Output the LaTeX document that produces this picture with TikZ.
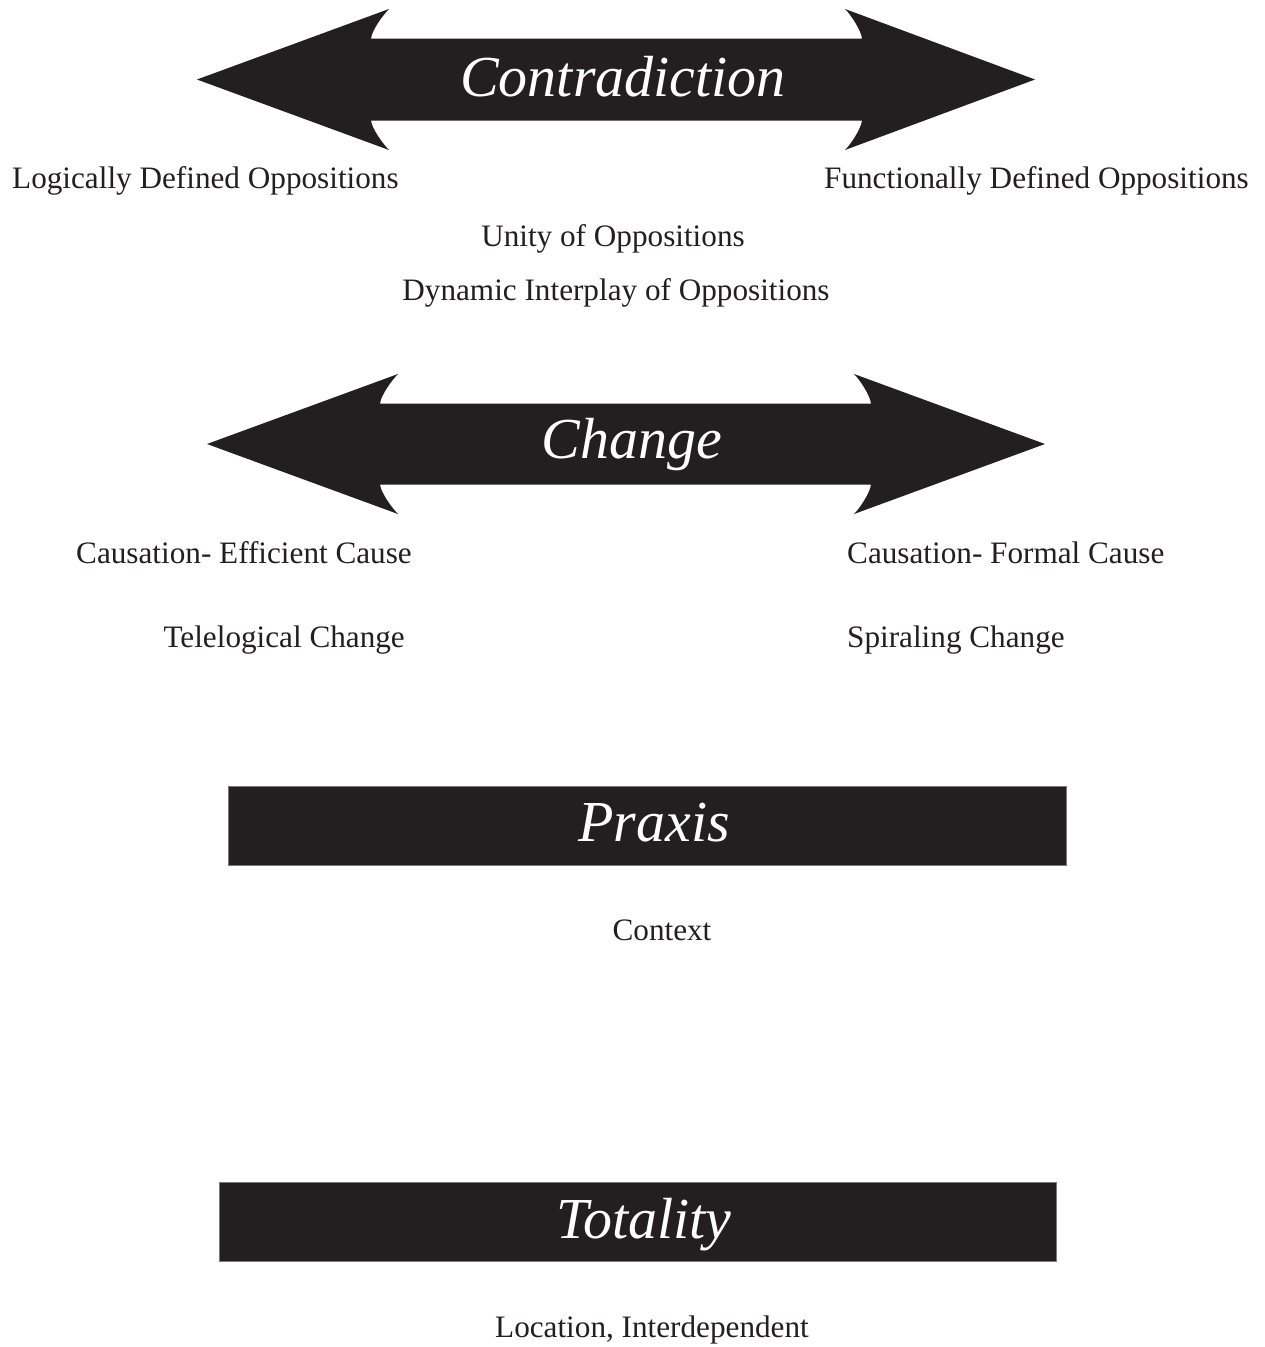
\documentclass[tikz,border=0pt]{standalone}
\usepackage{fontspec}
\setmainfont{Liberation Serif}
\definecolor{ink}{HTML}{231F20}
\definecolor{edge}{HTML}{7A7A7A}
\begin{document}
\begin{tikzpicture}[x=1pt,y=-1pt,
  label/.style={anchor=base,inner sep=0pt,text=ink,font=\fontsize{31.2}{36}\selectfont},
  title/.style={anchor=base,inner sep=0pt,text=white,font=\fontsize{58}{62}\selectfont\itshape},
  bar/.style={fill=ink,draw=edge,line width=0.8pt}]
\useasboundingbox[fill=white] (0,0) rectangle (1264,1347);

% Contradiction double arrow
\fill[ink] (197,79.5) -- (389,9) .. controls (383,15) and (372,30) .. (371,38.5)
  -- (862,38.5) .. controls (861,30) and (851,15) .. (845,9) -- (1035,79.5)
  -- (845,150) .. controls (851,144) and (861,129) .. (862,120.5)
  -- (371,120.5) .. controls (372,129) and (383,144) .. (389,150) -- cycle;
\node[title] (contradiction) at (623,96) {Contradiction};

\node[label,anchor=base west] (logical) at (12,188) {Logically Defined Oppositions};
\node[label,anchor=base east] (functional) at (1249,188) {Functionally Defined Oppositions};
\node[label] (unity) at (613,246) {Unity of Oppositions};
\node[label] (dynamic) at (616,300) {Dynamic Interplay of Oppositions};

% Change double arrow
\fill[ink] (207,444) -- (398,374) .. controls (392,380) and (381,395) .. (380,403.5)
  -- (871,403.5) .. controls (870,395) and (860,380) .. (854,374) -- (1045,444)
  -- (854,514) .. controls (860,508) and (870,493) .. (871,484.5)
  -- (380,484.5) .. controls (381,493) and (392,508) .. (398,514) -- cycle;
\node[title] (change) at (632,458) {Change};

\node[label,anchor=base west] (efficient) at (76,563) {Causation- Efficient Cause};
\node[label,anchor=base west] (formal) at (847,563) {Causation- Formal Cause};
\node[label,anchor=base east] (teleo) at (405,647) {Telelogical Change};
\node[label,anchor=base west] (spiral) at (847,647) {Spiraling Change};

% Praxis bar
\draw[bar] (228,786) rectangle (1066,865);
\node[title] (praxis) at (654,841) {Praxis};
\node[label] (context) at (662,940) {Context};

% Totality bar
\draw[bar] (219,1182) rectangle (1056,1261);
\node[title] (totality) at (644,1238) {Totality};
\node[label] (location) at (652,1337) {Location, Interdependent};
\end{tikzpicture}
\end{document}
